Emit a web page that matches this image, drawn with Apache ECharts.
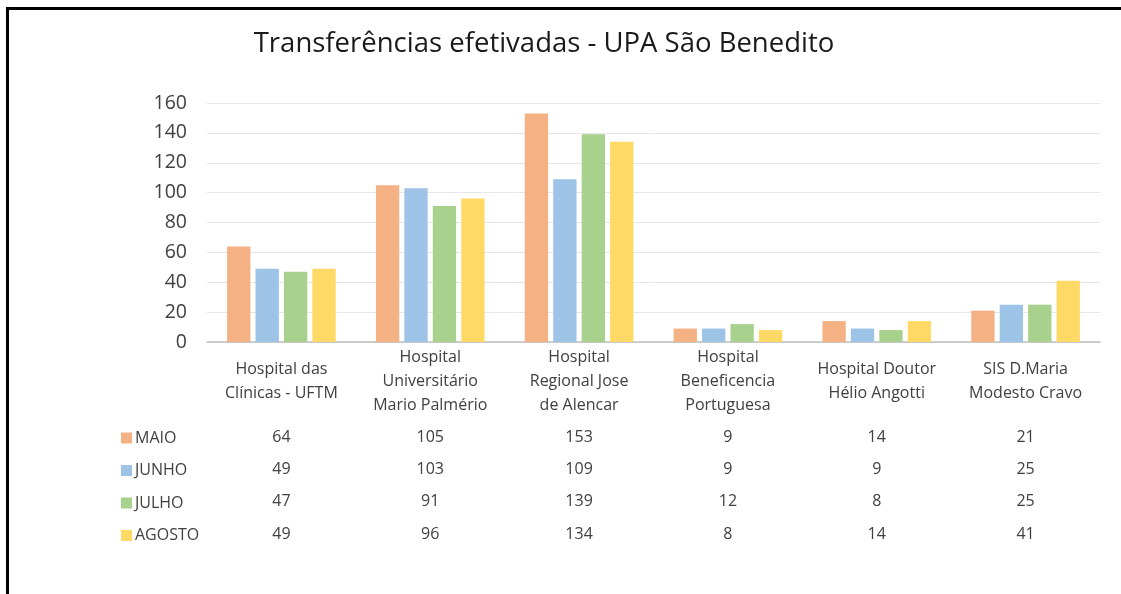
<!DOCTYPE html>
<html>
<head>
<meta charset="utf-8">
<script src="https://cdn.jsdelivr.net/npm/echarts@6/dist/echarts.min.js"></script>
<style>
  html, body { margin: 0; padding: 0; background: #fff; }
  #main { width: 1121px; height: 594px; }
</style>
</head>
<body>
<div id="main"></div>
<script>
var categories = [
  "Hospital das\nClínicas - UFTM",
  "Hospital\nUniversitário\nMario Palmério",
  "Hospital\nRegional Jose\nde Alencar",
  "Hospital\nBeneficencia\nPortuguesa",
  "Hospital Doutor\nHélio Angotti",
  "SIS D.Maria\nModesto Cravo"
];
var months = ["MAIO", "JUNHO", "JULHO", "AGOSTO"];
var maio = [64, 105, 153, 9, 14, 21];
var junho = [49, 103, 109, 9, 9, 25];
var julho = [47, 91, 139, 12, 8, 25];
var agosto = [49, 96, 134, 8, 14, 41];
var colors = ["#F4B183", "#9DC3E6", "#A9D18E", "#FFD966"];

var values = [maio, junho, julho, agosto];
var font = "'Open Sans', 'Noto Sans', sans-serif";

var chartDom = document.getElementById("main");
var myChart = echarts.init(chartDom);
var option;

// eixo principal + uma linha da tabela por mês
var xAxes = [{
  type: "category",
  data: categories,
  axisLine: { lineStyle: { color: "#bfbfbf", width: 1.5 } },
  axisTick: { show: false },
  axisLabel: {
    margin: 39, verticalAlign: "middle", lineHeight: 24,
    fontSize: 16, color: "#404040", fontFamily: font, interval: 0
  }
}];
var rowOffsets = [95, 127, 159.5, 192];
values.forEach(function (arr, i) {
  xAxes.push({
    type: "category",
    position: "bottom",
    offset: rowOffsets[i],
    data: arr.map(String),
    axisLine: { show: false },
    axisTick: { show: false },
    axisLabel: {
      margin: 0, verticalAlign: "middle",
      fontSize: 16, color: "#404040", fontFamily: font, interval: 0
    }
  });
});

option = {
  color: colors,
  title: {
    text: "Transferências efetivadas - UPA São Benedito",
    left: 539, top: 25, textAlign: "center",
    textStyle: { fontSize: 27.5, fontWeight: "normal", color: "#1a1a1a", fontFamily: font }
  },
  legend: {
    orient: "vertical",
    left: 116, top: 425,
    icon: "rect", itemWidth: 11, itemHeight: 11, itemGap: 16.5,
    textStyle: { fontSize: 16, color: "#404040", fontFamily: font, padding: [0, 0, 0, -2] },
    data: months
  },
  graphic: [{
    type: "rect",
    shape: { x: 7.5, y: 8.5, width: 1200, height: 700 },
    style: { fill: "none", stroke: "#000", lineWidth: 3 },
    silent: true
  }],
  grid: { left: 207, right: 21, top: 103, bottom: 252 },
  xAxis: xAxes,
  yAxis: {
    type: "value", min: 0, max: 160, interval: 20,
    axisLine: { show: false },
    axisTick: { show: false },
    axisLabel: { margin: 20, fontSize: 19.5, color: "#404040", fontFamily: font },
    splitLine: { lineStyle: { color: "#e6e6e6" } }
  },
  series: months.map(function (m, i) {
    return {
      name: m, type: "bar", xAxisIndex: 0,
      data: values[i],
      barGap: "22%", barCategoryGap: "27%"
    };
  })
};

option && myChart.setOption(option);
</script>
</body>
</html>
